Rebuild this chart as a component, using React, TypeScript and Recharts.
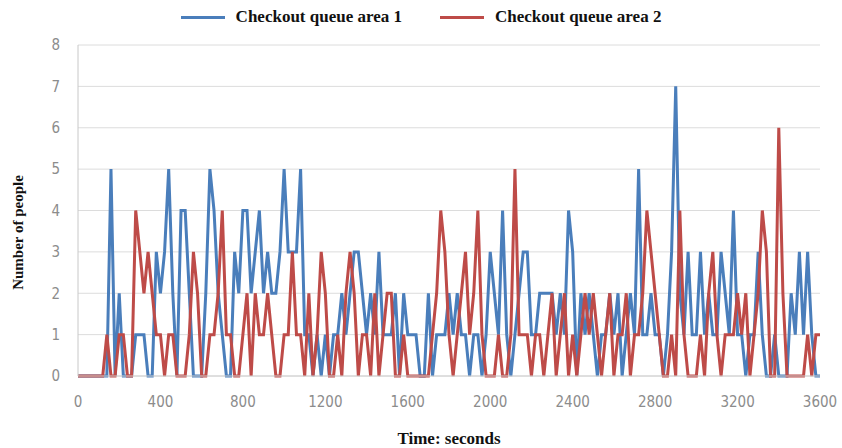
import React from 'react';
import { LineChart, Line, XAxis, YAxis, CartesianGrid } from 'recharts';

// one sample every 20 seconds, 0..3600
const times = Array.from({ length: 181 }, (_, i) => i * 20);

const area1 = [
  0, 0, 0, 0, 0, 0, 0, 0, 5, 0, 2, 0, 0, 0, 1, 1, 1, 0, 0, 3,
  2, 3, 5, 2, 0, 4, 4, 2, 0, 0, 0, 2, 5, 4, 2, 1, 0, 0, 3, 2,
  4, 4, 2, 3, 4, 2, 3, 2, 2, 3, 5, 3, 3, 3, 5, 1, 1, 0, 1, 0,
  1, 0, 1, 1, 2, 1, 2, 3, 3, 2, 1, 2, 1, 3, 1, 1, 1, 2, 0, 2,
  1, 1, 1, 0, 0, 2, 0, 1, 1, 1, 2, 1, 2, 1, 1, 0, 1, 1, 0, 1,
  3, 2, 1, 4, 1, 0, 1, 2, 3, 3, 1, 1, 2, 2, 2, 2, 1, 2, 1, 4,
  3, 0, 2, 1, 2, 1, 0, 1, 1, 2, 1, 2, 0, 1, 2, 1, 5, 1, 1, 2,
  1, 1, 0, 1, 3, 7, 2, 1, 3, 1, 1, 3, 1, 2, 1, 1, 3, 2, 1, 4,
  1, 1, 0, 1, 1, 3, 1, 0, 0, 1, 0, 0, 0, 2, 1, 3, 1, 3, 1, 0,
  0,
];

const area2 = [
  0, 0, 0, 0, 0, 0, 0, 1, 0, 0, 1, 1, 0, 0, 4, 3, 2, 3, 2, 1,
  1, 0, 1, 1, 0, 0, 0, 1, 3, 2, 0, 0, 1, 1, 2, 4, 1, 1, 0, 0,
  1, 2, 0, 2, 1, 1, 2, 1, 0, 0, 1, 1, 3, 1, 1, 0, 2, 0, 1, 3,
  2, 0, 0, 1, 0, 2, 3, 2, 0, 1, 1, 0, 2, 0, 1, 2, 2, 0, 0, 1,
  0, 0, 0, 0, 0, 0, 1, 2, 4, 3, 1, 0, 1, 2, 3, 1, 2, 4, 1, 0,
  0, 0, 1, 0, 0, 1, 5, 1, 1, 1, 0, 1, 1, 0, 1, 2, 0, 1, 2, 0,
  1, 0, 1, 2, 1, 2, 1, 0, 1, 2, 0, 1, 1, 2, 0, 1, 1, 2, 4, 3,
  2, 1, 0, 0, 1, 0, 4, 1, 0, 0, 0, 1, 0, 2, 3, 1, 0, 1, 1, 1,
  2, 1, 2, 0, 1, 2, 4, 3, 0, 0, 6, 2, 0, 0, 0, 0, 0, 1, 0, 1,
  1,
];

const xTicks = [0, 400, 800, 1200, 1600, 2000, 2400, 2800, 3200, 3600];
const yTicks = [0, 1, 2, 3, 4, 5, 6, 7, 8];
const seriesNames = ['Checkout queue area 1', 'Checkout queue area 2'];

const data = times.map((t, i) => ({ t, a1: area1[i], a2: area2[i] }));

const BLUE = '#4a7ebb';
const RED = '#be4b48';
const colors = [BLUE, RED];

const tickStyle = { fontSize: 15, fill: '#8c8c8c', fontFamily: '"DejaVu Sans Condensed", "DejaVu Sans", sans-serif' };

// y-axis title sits a little below the plot's middle, as in the original
const YTitle = ({ viewBox }: any) => {
  const x = viewBox.x + 18;
  const y = viewBox.y + viewBox.height / 2 + 22;
  return (
    <text x={x} y={y} transform={`rotate(-90, ${x}, ${y})`} textAnchor="middle" dominantBaseline="central"
      style={{ fontFamily: '"Liberation Serif", serif', fontWeight: 'bold', fontSize: 15, fill: '#111' }}>
      Number of people
    </text>
  );
};

export default function App() {
  return (
    <div style={{ position: 'absolute', left: 0, top: 0, width: 842, height: 448, background: '#fff' }}>
      {/* legend sits above the plot, kept out of the chart's layout */}
      <div style={{ position: 'absolute', top: 7, left: 0, width: 842, display: 'flex', justifyContent: 'center', gap: 38, fontFamily: '"Liberation Serif", serif', fontWeight: 'bold', fontSize: 17, color: '#111', zIndex: 1 }}>
        {seriesNames.map((label, i) => (
          <div key={label} style={{ display: 'flex', alignItems: 'center' }}>
            <span style={{ display: 'inline-block', width: 44, height: 3, background: colors[i], marginRight: 11 }} />
            {label}
          </div>
        ))}
      </div>
      <LineChart width={842} height={448} data={data} margin={{ top: 45, right: 22, left: 0, bottom: 0 }}>
        <CartesianGrid vertical={false} stroke="#dcdcdc" />
        <XAxis
          dataKey="t"
          type="number"
          domain={[0, 3600]}
          ticks={xTicks}
          tick={tickStyle}
          tickLine={false}
          axisLine={{ stroke: '#d0d0d0' }}
          tickMargin={14}
          height={72}
          label={{ value: 'Time: seconds', position: 'insideBottom', offset: 4, style: { fontFamily: '"Liberation Serif", serif', fontWeight: 'bold', fontSize: 17, fill: '#111' } }}
        />
        <YAxis
          type="number"
          domain={[0, 8]}
          ticks={yTicks}
          tick={tickStyle}
          tickLine={false}
          axisLine={{ stroke: '#c8c8c8' }}
          width={78}
          tickMargin={12}
          label={{ content: YTitle }}
        />
        <Line type="linear" dataKey="a1" name={seriesNames[0]} stroke={BLUE} strokeWidth={3} dot={false} isAnimationActive={false} />
        <Line type="linear" dataKey="a2" name={seriesNames[1]} stroke={RED} strokeWidth={3} dot={false} isAnimationActive={false} />
      </LineChart>
    </div>
  );
}
